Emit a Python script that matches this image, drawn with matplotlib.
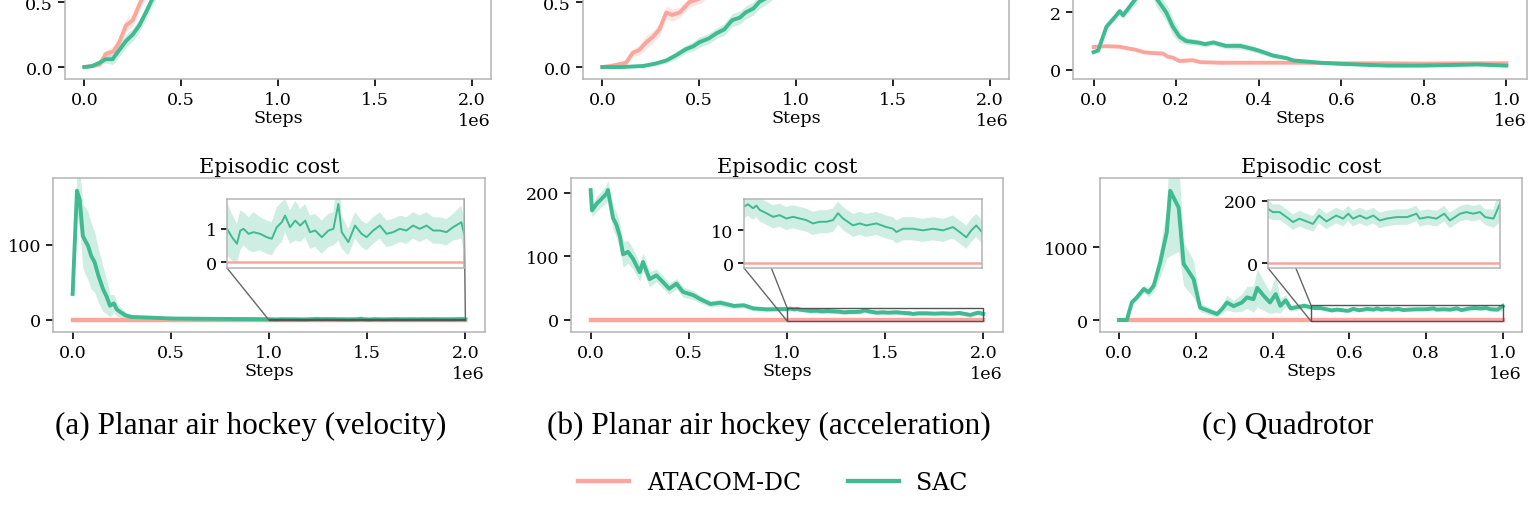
import matplotlib
matplotlib.use("Agg")
import matplotlib.pyplot as plt
from matplotlib.lines import Line2D
import numpy as np

W, H = 1540, 506

# ---- data (x in millions of steps) ----
# top row (partly cropped), panel a
top_a_atacom_x = [0, 0.05, 0.08, 0.11, 0.15, 0.18, 0.215, 0.25, 0.284, 0.30, 0.35, 0.45, 0.6, 0.8, 1.0, 1.5, 2.0]
top_a_atacom_y = [0, 0.01, 0.02, 0.10, 0.12, 0.19, 0.32, 0.36, 0.48, 0.53, 0.65, 0.8, 0.9, 0.95, 0.97, 0.98, 0.98]
top_a_atacom_s = [0, 0.01, 0.02, 0.03, 0.04, 0.04, 0.05, 0.05, 0.05, 0.05, 0.05, 0.04, 0.03, 0.02, 0.02, 0.02, 0.02]
top_a_sac_x = [0, 0.04, 0.078, 0.11, 0.146, 0.16, 0.18, 0.215, 0.25, 0.284, 0.318, 0.353, 0.4, 0.5, 0.7, 1.0, 1.5, 2.0]
top_a_sac_y = [0, 0.007, 0.033, 0.06, 0.06, 0.09, 0.13, 0.2, 0.25, 0.32, 0.42, 0.53, 0.65, 0.8, 0.9, 0.95, 0.97, 0.98]
top_a_sac_s = [0, 0.01, 0.02, 0.03, 0.04, 0.05, 0.05, 0.05, 0.05, 0.05, 0.05, 0.05, 0.05, 0.04, 0.03, 0.02, 0.02, 0.02]

# top row, panel b
top_b_atacom_x = [0, 0.05, 0.122, 0.157, 0.19, 0.226, 0.26, 0.295, 0.33, 0.36, 0.40, 0.45, 0.51, 0.6, 0.8, 1.0, 1.5, 2.0]
top_b_atacom_y = [0, 0.01, 0.033, 0.11, 0.13, 0.19, 0.23, 0.29, 0.42, 0.40, 0.42, 0.50, 0.53, 0.65, 0.8, 0.9, 0.95, 0.96]
top_b_atacom_s = [0, 0.01, 0.02, 0.03, 0.04, 0.05, 0.05, 0.05, 0.05, 0.05, 0.04, 0.04, 0.04, 0.04, 0.03, 0.02, 0.02, 0.02]
top_b_sac_x = [0, 0.1, 0.21, 0.27, 0.33, 0.38, 0.43, 0.47, 0.50, 0.55, 0.59, 0.63, 0.67, 0.71, 0.74, 0.78, 0.81, 0.846,
               0.9, 1.0, 1.2, 1.5, 2.0]
top_b_sac_y = [0, 0.0, 0.008, 0.025, 0.05, 0.09, 0.136, 0.16, 0.19, 0.22, 0.26, 0.29, 0.36, 0.38, 0.42, 0.45, 0.5, 0.53,
               0.6, 0.7, 0.82, 0.9, 0.95]
top_b_sac_s = [0, 0.0, 0.01, 0.015, 0.02, 0.03, 0.03, 0.035, 0.04, 0.04, 0.04, 0.045, 0.05, 0.05, 0.05, 0.05, 0.05, 0.05,
               0.05, 0.05, 0.04, 0.03, 0.02]

# top row, panel c
top_c_atacom_x = [0, 0.03, 0.063, 0.087, 0.1, 0.124, 0.145, 0.168, 0.18, 0.192, 0.208, 0.24, 0.258, 0.306, 0.387,
                  0.5, 0.6, 0.7, 0.8, 0.9, 1.0]
top_c_atacom_y = [0.79, 0.82, 0.8, 0.73, 0.7, 0.6, 0.58, 0.56, 0.45, 0.42, 0.3, 0.33, 0.26, 0.24, 0.24,
                  0.24, 0.22, 0.22, 0.21, 0.22, 0.22]
top_c_atacom_s = [0.03] * 21
top_c_sac_x = [0, 0.011, 0.031, 0.055, 0.063, 0.071, 0.087, 0.103, 0.12, 0.135, 0.152, 0.176, 0.192, 0.208, 0.224,
               0.256, 0.27, 0.29, 0.32, 0.355, 0.387, 0.403, 0.435, 0.468, 0.484, 0.549, 0.6, 0.71, 0.79, 0.87,
               0.93, 1.0]
top_c_sac_y = [0.61, 0.67, 1.5, 1.9, 2.05, 1.9, 2.2, 2.5, 3.4, 3.2, 2.5, 2.0, 1.5, 1.15, 1.0,
               0.94, 0.89, 0.95, 0.83, 0.83, 0.72, 0.65, 0.49, 0.4, 0.32, 0.24, 0.2, 0.14, 0.14, 0.16,
               0.18, 0.14]
top_c_sac_s = [0.02, 0.05, 0.1, 0.1, 0.1, 0.12, 0.15, 0.2, 0.3, 0.3, 0.3, 0.3, 0.3, 0.2, 0.12,
               0.1, 0.1, 0.1, 0.1, 0.12, 0.1, 0.1, 0.08, 0.06, 0.05, 0.04, 0.04, 0.04, 0.05, 0.05,
               0.05, 0.05]

# bottom row, episodic cost, panel a
cost_a_sac_x = [0, 0.022, 0.036, 0.052, 0.065, 0.078, 0.095, 0.112, 0.13, 0.155, 0.175, 0.19, 0.21, 0.225, 0.24,
                0.27, 0.3, 0.36, 0.5, 0.7, 0.9,
                1.0, 1.021, 1.042, 1.056, 1.07, 1.091, 1.112, 1.14, 1.168, 1.189, 1.21, 1.231, 1.245, 1.266, 1.288,
                1.309, 1.33, 1.35, 1.372, 1.4, 1.428, 1.449, 1.47, 1.484, 1.512, 1.54, 1.568, 1.589, 1.617, 1.645,
                1.673, 1.701, 1.729, 1.757, 1.785, 1.813, 1.842, 1.87, 1.898, 1.926, 1.954, 1.989, 2.0]
cost_a_sac_y = [34.7, 172, 160, 112, 105, 99, 85, 77, 60, 41, 30, 19, 22, 14, 11,
                6, 4, 3.5, 2.0, 1.5, 1.2,
                1.0, 0.75, 0.55, 0.95, 1.0, 0.85, 0.9, 0.85, 0.75, 0.7, 1.05, 1.2, 1.4, 1.05, 1.25,
                1.1, 1.25, 0.9, 0.95, 0.75, 0.95, 1.0, 1.75, 0.9, 0.6, 1.1, 0.85, 0.75, 0.95, 1.1,
                0.85, 0.9, 1.0, 0.95, 1.1, 1.0, 1.1, 0.95, 0.95, 0.9, 1.05, 1.2, 0.85]
cost_a_sac_s = [2, 32, 40, 42, 45, 45, 44, 40, 36, 30, 22, 15, 12, 9, 7,
                5, 3, 2, 1.5, 1.0, 0.8,
                0.8, 0.7, 0.6, 0.6, 0.5, 0.5, 0.6, 0.5, 0.5, 0.5, 0.6, 0.6, 0.5, 0.5, 0.6,
                0.5, 0.5, 0.5, 0.5, 0.5, 0.5, 0.5, 1.1, 0.5, 0.4, 0.4, 0.4, 0.4, 0.4, 0.4,
                0.4, 0.4, 0.4, 0.4, 0.4, 0.4, 0.4, 0.4, 0.4, 0.4, 0.4, 0.5, 0.5]

# panel b
cost_b_sac_x = [0, 0.007, 0.032, 0.055, 0.08, 0.088, 0.114, 0.131, 0.15, 0.165, 0.19, 0.216, 0.25, 0.267, 0.3,
                0.335, 0.37, 0.4, 0.437, 0.47, 0.522, 0.556, 0.61, 0.66, 0.73, 0.78, 0.83, 0.9, 0.95,
                1.0, 1.017, 1.038, 1.052, 1.066, 1.094, 1.122, 1.15, 1.178, 1.206, 1.234, 1.262, 1.29, 1.318,
                1.346, 1.374, 1.395, 1.416, 1.458, 1.486, 1.514, 1.556, 1.598, 1.626, 1.64, 1.668, 1.71, 1.752,
                1.794, 1.836, 1.878, 1.906, 1.934, 1.955, 1.976, 2.0]
cost_b_sac_y = [204, 172, 183, 190, 198, 204, 160, 150, 130, 103, 107, 96, 75, 91, 64,
                70, 59, 49, 57, 44, 39, 33, 25, 27, 22, 23, 18, 16.6, 17,
                17.1, 17.8, 16.6, 17.4, 16.1, 15.1, 14.0, 14.5, 13.5, 14.0, 13.5, 13.0, 12.0, 12.5,
                12.5, 13.0, 15.1, 13.5, 11.4, 12.0, 11.4, 12.0, 10.9, 10.4, 9.4, 10.4, 10.4, 9.9,
                10.4, 9.9, 10.9, 9.4, 7.8, 9.9, 11.4, 9.4]
cost_b_sac_s = [10, 10, 12, 12, 14, 15, 18, 20, 20, 20, 18, 16, 14, 14, 12,
                10, 10, 9, 8, 8, 7, 6, 5, 5, 4, 4, 4, 3.5, 3.5,
                3.5, 3.5, 3.5, 3.5, 3.5, 3.5, 3.5, 3.5, 3.5, 3.5, 3.5, 3.5, 3.5, 3.5,
                3.5, 3.5, 3.5, 3.5, 3.5, 3.5, 3.5, 3.5, 3.5, 3.5, 3.5, 3.5, 3.5, 3.5,
                3.5, 3.5, 3.5, 3.5, 3.5, 3.5, 3.5, 3.5]

# panel c
cost_c_sac_x = [0, 0.02, 0.033, 0.046, 0.064, 0.077, 0.09, 0.107, 0.124, 0.133, 0.155, 0.168, 0.194, 0.211, 0.255,
                0.268, 0.281, 0.298, 0.32, 0.333, 0.35, 0.36, 0.377, 0.393, 0.408, 0.42, 0.434, 0.447, 0.482,
                0.5, 0.51, 0.525, 0.54, 0.554, 0.568, 0.583, 0.597, 0.61, 0.626, 0.647, 0.662, 0.673, 0.683,
                0.698, 0.712, 0.727, 0.741, 0.755, 0.777, 0.8, 0.82, 0.827, 0.845, 0.863, 0.88, 0.892, 0.914,
                0.928, 0.942, 0.957, 0.968, 0.986, 1.0]
cost_c_sac_y = [0, 0, 242, 310, 425, 380, 470, 790, 1200, 1770, 1540, 770, 560, 170, 82,
                150, 240, 190, 240, 310, 285, 440, 330, 240, 355, 195, 270, 160, 195,
                175, 164, 164, 148, 132, 143, 134, 126, 153, 134, 153, 143, 159, 143,
                153, 143, 153, 137, 143, 148, 148, 159, 143, 148, 143, 159, 137, 159,
                164, 159, 164, 148, 143, 191]
cost_c_sac_s = [0, 0, 30, 40, 50, 60, 80, 200, 350, 890, 600, 300, 250, 60, 40,
                60, 100, 80, 120, 150, 180, 260, 200, 150, 250, 100, 80, 40, 40,
                30, 25, 25, 25, 25, 25, 25, 25, 25, 25, 25, 25, 25, 25,
                25, 25, 25, 25, 25, 25, 25, 25, 25, 25, 25, 25, 25, 25,
                25, 25, 25, 25, 30, 60]

cost_atacom_x_long = [0, 2.0]
cost_atacom_x_short = [0, 1.0]
cost_atacom_y = [0, 0]

captions = ["(a) Planar air hockey (velocity)", "(b) Planar air hockey (acceleration)", "(c) Quadrotor"]
labels = ["ATACOM-DC", "SAC"]

ATACOM = "#fba69c"
SAC = "#3fba91"
SPINE = "#b4b4b4"
TICK_FS = 12.6


def px_rect(left, top, right, bottom):
    return [left / W, 1 - bottom / H, (right - left) / W, (bottom - top) / H]


def style_axes(ax, length=5, fs=TICK_FS):
    for sp in ax.spines.values():
        sp.set_color(SPINE)
        sp.set_linewidth(1.1)
    ax.tick_params(axis="both", direction="out", length=length, width=1.2,
                   color="black", labelsize=fs)
    ax.xaxis.get_offset_text().set_fontsize(fs)


def draw(ax, x, y, s, color, lw):
    x = np.array(x) * 1e6
    y = np.array(y, dtype=float)
    s = np.array(s, dtype=float)
    ax.fill_between(x, y - s, y + s, color=color, alpha=0.25, lw=0)
    ax.plot(x, y, color=color, lw=lw)


def main():
    plt.rcParams["font.family"] = "DejaVu Serif"
    fig = plt.figure(figsize=(W / 100, H / 100), dpi=100)

    # top row, cropped at the top of the image
    top_specs = [
        ((65, -75, 491, 80), (-0.1, 2.1), (-0.092, 1.1), [0, 0.5, 1.0], np.arange(0, 2.01, 0.5),
         (top_a_atacom_x, top_a_atacom_y, top_a_atacom_s), (top_a_sac_x, top_a_sac_y, top_a_sac_s)),
        ((583, -75, 1009, 80), (-0.1, 2.1), (-0.092, 1.1), [0, 0.5, 1.0], np.arange(0, 2.01, 0.5),
         (top_b_atacom_x, top_b_atacom_y, top_b_atacom_s), (top_b_sac_x, top_b_sac_y, top_b_sac_s)),
        ((1073, -75, 1527, 80), (-0.05, 1.05), (-0.33, 5.1), [0, 2, 4], np.arange(0, 1.01, 0.2),
         (top_c_atacom_x, top_c_atacom_y, top_c_atacom_s), (top_c_sac_x, top_c_sac_y, top_c_sac_s)),
    ]
    for rect, xl, yl, yt, xt, at, sac in top_specs:
        ax = fig.add_axes(px_rect(*rect))
        draw(ax, *at, ATACOM, 2.8)
        draw(ax, *sac, SAC, 2.8)
        ax.set_xlim(xl[0] * 1e6, xl[1] * 1e6)
        ax.set_ylim(*yl)
        ax.set_yticks(yt)
        ax.set_xticks(xt * 1e6)
        ax.set_xlabel("Steps", fontsize=TICK_FS, labelpad=1)
        style_axes(ax)

    # bottom row: episodic cost with zoomed insets
    bottom_specs = [
        ((53, 179, 485, 333), (-0.1, 2.1), (-16, 189), [0, 100], np.arange(0, 2.01, 0.5),
         cost_atacom_x_long, (cost_a_sac_x, cost_a_sac_y, cost_a_sac_s),
         (227, 200, 464, 269), (1.0, 2.0), (-0.18, 1.9), [0, 1]),
        ((571, 179, 1003, 333), (-0.1, 2.1), (-19, 223), [0, 100, 200], np.arange(0, 2.01, 0.5),
         cost_atacom_x_long, (cost_b_sac_x, cost_b_sac_y, cost_b_sac_s),
         (744, 200, 982, 269), (1.0, 2.0), (-1.5, 19.4), [0, 10]),
        ((1100, 179, 1522, 333), (-0.05, 1.05), (-164, 1945), [0, 1000], np.arange(0, 1.01, 0.2),
         cost_atacom_x_short, (cost_c_sac_x, cost_c_sac_y, cost_c_sac_s),
         (1268, 201, 1500, 269), (0.5, 1.0), (-16, 203), [0, 200]),
    ]
    for rect, xl, yl, yt, xt, atx, sac, irect, ixl, iyl, iyt in bottom_specs:
        ax = fig.add_axes(px_rect(*rect))
        ax.plot(np.array(atx) * 1e6, cost_atacom_y, color=ATACOM, lw=3.2)
        draw(ax, *sac, SAC, 2.8)
        ax.set_xlim(xl[0] * 1e6, xl[1] * 1e6)
        ax.set_ylim(*yl)
        ax.set_yticks(yt)
        ax.set_xticks(xt * 1e6)
        ax.set_xlabel("Steps", fontsize=TICK_FS, labelpad=1)
        ax.set_title("Episodic cost", fontsize=15, pad=4)
        style_axes(ax)

        ins = fig.add_axes(px_rect(*irect))
        ins.plot(np.array(atx) * 1e6, cost_atacom_y, color=ATACOM, lw=1.8)
        draw(ins, *sac, SAC, 1.4)
        ins.set_xlim(ixl[0] * 1e6, ixl[1] * 1e6)
        ins.set_ylim(*iyl)
        ins.set_yticks(iyt)
        ins.set_xticks([])
        style_axes(ins, length=4)
        ind = ax.indicate_inset_zoom(ins, edgecolor="#555555", alpha=1, linewidth=1.0)
        for c in ind.connectors:
            c.set_color("#666666")
            c.set_linewidth(1.0)

    for cap, cx in zip(captions, [251, 769, 1288]):
        fig.text(cx / W, 1 - 434 / H, cap, ha="center", va="baseline",
                 fontsize=22.5, family="Liberation Serif")

    handles = [Line2D([], [], color=ATACOM, lw=3.1), Line2D([], [], color=SAC, lw=3.1)]
    fig.legend(handles, labels, loc="center", bbox_to_anchor=(773 / W, 1 - 484 / H), ncol=2,
               frameon=False, fontsize=17, handlelength=2.15, handletextpad=0.75, columnspacing=2.0)

    fig.savefig("out.png", dpi=100)


if __name__ == '__main__':
    main()
